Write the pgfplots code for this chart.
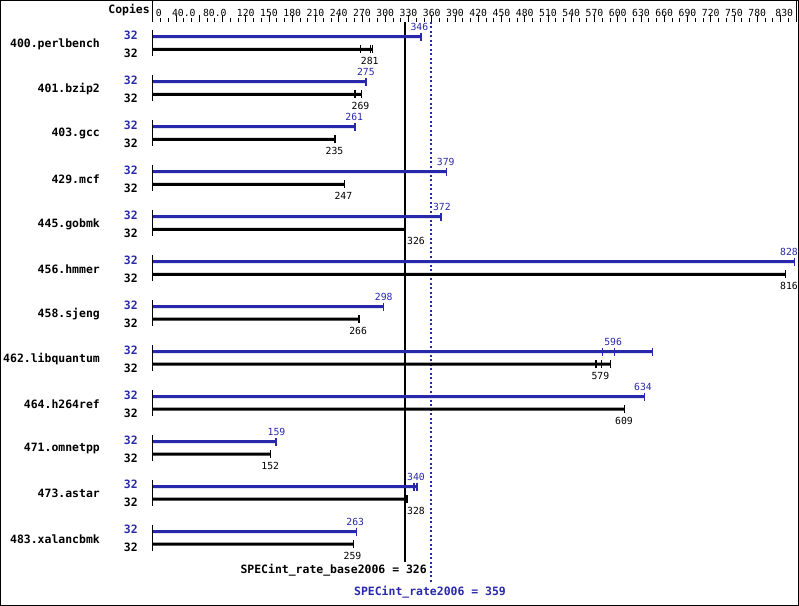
\documentclass[border=0pt]{standalone}
\usepackage{fontspec}
\setmainfont{DejaVu Sans Mono}
\usepackage{pgfplots}
\pgfplotsset{compat=1.18}
\definecolor{peak}{RGB}{40,40,170}
\newcommand{\bigb}{\fontsize{11.5}{12}\selectfont\bfseries}
\newcommand{\smallf}{\fontsize{9.8}{10}\selectfont}
\begin{document}
\begin{tikzpicture}
\begin{axis}[
  scale only axis, width=643.3bp, height=538bp,
  xmin=0, xmax=830, ymin=-0.467, ymax=11.489, y dir=reverse,
  clip=false,
  axis x line*=top, axis y line=none,
  x axis line style={draw=none},
  xtick={0,30,...,810}, xticklabels={},
  minor xtick={0,10,...,830},
  tick align=outside,
  major tick length=7bp, minor tick length=4bp,
  every tick/.style={black, line width=0.8bp},
  extra x ticks={0,40,80,120,150,180,210,240,270,300,330,360,390,420,450,480,510,540,570,600,630,660,690,720,750,780,830},
  extra x tick labels={\rlap{\hspace{3bp}0},40.0,80.0,120,150,180,210,240,270,300,330,360,390,420,450,480,510,540,570,600,630,660,690,720,750,780,\llap{830\hspace{3bp}}},
  extra x tick style={major tick length=0pt, xticklabel style={yshift=5bp}},
  /pgf/number format/assume math mode=true,
  xticklabel style={font=\smallf, inner sep=0pt, anchor=south},
]
% header box lines
\draw[black, line width=1bp] (axis cs:0,-0.944) -- (axis cs:0,-0.467);
\draw[black, line width=1bp] (axis cs:830,-0.944) -- (axis cs:830,-0.467);
\node[anchor=east, font=\bigb, inner sep=0pt] at (axis cs:-3.6,-0.74) {Copies};
% frame
\draw[black, line width=1bp] (axis cs:-196.5,-0.944) rectangle (axis cs:833.2,12.5);

% reference lines
\addplot[black, line width=2bp] coordinates {(326,-0.467) (326,11.53)};
\addplot[peak, line width=2.2bp, dash pattern=on 2bp off 2.5bp] coordinates {(359,-0.467) (359,12.0)};
\node[anchor=east, font=\bigb, inner sep=0pt] at (axis cs:353.8,11.71) {SPECint\_rate\_base2006 = 326};
\node[anchor=center, font=\bigb, inner sep=0pt, text=peak] at (axis cs:357.7,12.2) {SPECint\_rate2006 = 359};

% start ticks at zero
\addplot[only marks, mark=|, mark size=13bp, mark options={black, line width=1.2bp}] table {
x y
0 0
0 1
0 2
0 3
0 4
0 5
0 6
0 7
0 8
0 9
0 10
0 11
};

% peak bars
\addplot[xbar, bar width=3bp, bar shift=0pt, fill=peak, draw=none] table {
x y
346 -0.14
275 0.86
261 1.86
379 2.86
372 3.86
828 4.86
298 5.86
645 6.86
634 7.86
159 8.86
341 9.86
263 10.86
};
% base bars
\addplot[xbar, bar width=3bp, bar shift=0pt, fill=black, draw=none] table {
x y
284 0.14
269 1.14
235 2.14
247 3.14
326 4.14
816 5.14
266 6.14
591 7.14
609 8.14
152 9.14
328 10.14
259 11.14
};
% peak run ticks
\addplot[only marks, mark=|, mark size=4bp, mark options={peak, line width=1.2bp}] table {
x y
346 -0.14
275 0.86
261 1.86
379 2.86
372 3.86
828 4.86
298 5.86
580 6.86
596 6.86
645 6.86
634 7.86
159 8.86
337 9.86
341 9.86
263 10.86
};
% base run ticks
\addplot[only marks, mark=|, mark size=4bp, mark options={black, line width=1.2bp}] table {
x y
268 0.14
281 0.14
284 0.14
261 1.14
269 1.14
235 2.14
247 3.14
326 4.14
816 5.14
266 6.14
572 7.14
579 7.14
591 7.14
609 8.14
152 9.14
327 10.14
329 10.14
259 11.14
};
% peak labels
\addplot[draw=none, mark=none, nodes near coords, point meta=explicit symbolic,
  nodes near coords style={anchor=south, inner sep=0pt, yshift=5.5bp, font=\smallf, text=peak}] table[meta=l] {
x y l
344 -0.14 346
275 0.86 275
260 1.86 261
378 2.86 379
373 3.86 372
821 4.86 828
298 5.86 298
594 6.86 596
632.5 7.86 634
159.6 8.86 159
339.7 9.86 340
261.3 10.86 263
};
% base labels
\addplot[draw=none, mark=none, nodes near coords, point meta=explicit symbolic,
  nodes near coords style={anchor=north, inner sep=0pt, yshift=-8bp, font=\smallf, text=black}] table[meta=l] {
x y l
280 0.14 281
268 1.14 269
234.5 2.14 235
246 3.14 247
339.7 4.14 326
821 5.14 816
265 6.14 266
577.5 7.14 579
608 8.14 609
151.6 9.14 152
339.7 10.14 328
257.7 11.14 259
};
% benchmark names
\addplot[draw=none, mark=none, nodes near coords, point meta=explicit symbolic,
  nodes near coords style={anchor=east, inner sep=0pt, font=\bigb, text=black}] table[meta=n] {
x y n
-68.1 0.02 400.perlbench
-68.1 1.02 401.bzip2
-68.1 2.02 403.gcc
-68.1 3.02 429.mcf
-68.1 4.02 445.gobmk
-68.1 5.02 456.hmmer
-68.1 6.02 458.sjeng
-68.1 7.02 462.libquantum
-68.1 8.02 464.h264ref
-68.1 9.02 471.omnetpp
-68.1 10.02 473.astar
-68.1 11.02 483.xalancbmk
};
% copies
\addplot[draw=none, mark=none, nodes near coords, point meta=explicit symbolic,
  nodes near coords style={anchor=east, inner sep=0pt, font=\bigb, text=peak}] table[meta=n] {
x y n
-19.1 -0.18 32
-19.1 0.82 32
-19.1 1.82 32
-19.1 2.82 32
-19.1 3.82 32
-19.1 4.82 32
-19.1 5.82 32
-19.1 6.82 32
-19.1 7.82 32
-19.1 8.82 32
-19.1 9.82 32
-19.1 10.82 32
};
\addplot[draw=none, mark=none, nodes near coords, point meta=explicit symbolic,
  nodes near coords style={anchor=east, inner sep=0pt, font=\bigb, text=black}] table[meta=n] {
x y n
-19.1 0.22 32
-19.1 1.22 32
-19.1 2.22 32
-19.1 3.22 32
-19.1 4.22 32
-19.1 5.22 32
-19.1 6.22 32
-19.1 7.22 32
-19.1 8.22 32
-19.1 9.22 32
-19.1 10.22 32
-19.1 11.22 32
};
\end{axis}
\end{tikzpicture}
\end{document}
